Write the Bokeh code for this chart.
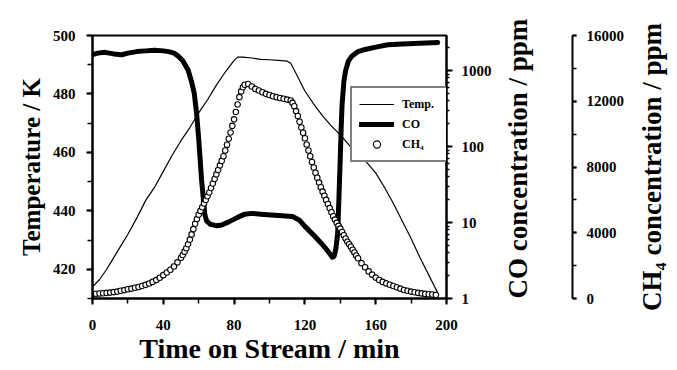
import math
from bokeh.plotting import figure
from bokeh.layouts import row
from bokeh.models import (Range1d, LinearAxis, LogAxis, LogScale, SingleIntervalTicker,
                          LogTicker, FixedTicker, Legend, LegendItem, PrintfTickFormatter)
from bokeh.embed import file_html
from bokeh.resources import INLINE

FONT = "Liberation Serif"

# ---- data ----
temp_time = [0, 4, 8, 12, 16, 20, 25, 30, 35, 40, 45, 50, 55, 60, 65, 70, 75, 80, 82, 85,
             90, 95, 100, 105, 110, 112, 115, 120, 125, 130, 135, 140, 145, 150, 155, 160,
             165, 170, 175, 180, 185, 190, 195]
temp_K = [414.0, 416.5, 420.0, 424.0, 428.0, 432.0, 437.5, 443.5, 448.0, 453.5, 459.0, 464.0,
          468.5, 473.5, 478.0, 483.0, 487.5, 491.5, 492.6, 492.6, 492.3, 491.8, 491.7, 491.5,
          491.2, 490.5, 487.0, 481.0, 476.5, 472.5, 469.0, 466.0, 462.5, 459.5, 456.5, 453.0,
          448.0, 442.5, 436.5, 430.5, 424.0, 418.0, 412.0]

co_time = [0, 3, 7, 12, 16.5, 20, 25, 30, 35, 40, 43, 46, 48.5, 51, 54, 56, 57.5, 58.8, 60,
           60.7, 61.6, 62.5, 63.5, 64.5, 66.5, 70, 73, 77, 82, 86, 90, 95, 101, 107, 113, 117,
           120, 125, 130, 133, 135.5, 136.5, 137.5, 138.5, 139.2, 139.9, 140.5, 141, 142, 143,
           144.5, 146.5, 150, 154, 160, 167, 175, 185, 195]
co_ppm = [1620, 1700, 1740, 1660, 1620, 1700, 1780, 1820, 1860, 1820, 1780, 1700, 1550, 1350,
          1020, 710, 500, 275, 126, 74, 37, 22, 12.6, 10.5, 9.5, 9.1, 9.3, 10.2, 11.7, 12.9,
          13.2, 12.9, 12.6, 12.3, 12.0, 10.7, 8.9, 6.8, 5.1, 4.2, 3.5, 3.6, 4.5, 7.1, 20, 62,
          178, 355, 710, 1000, 1320, 1550, 1780, 1900, 2040, 2190, 2240, 2290, 2340]

ch4_time = [0, 2, 4, 6, 8, 10, 12, 14, 16, 18, 20, 22, 24, 26, 28, 30, 32, 34, 36, 38, 40, 42,
            44, 46, 48, 50,
            51, 52, 53, 54, 55, 56, 57, 58, 59, 60, 61, 62, 63, 64, 65, 66, 67, 68, 69, 70,
            71, 72, 73, 74, 75, 76, 77, 78, 79, 80, 81, 82, 83, 84, 85, 86,
            88, 90, 92, 94, 96, 98, 100, 102, 104, 106, 108, 110, 112,
            113, 114, 115, 116, 117, 118, 119, 120, 121, 122, 123, 124, 125, 126, 127, 128,
            129, 130, 131, 132, 133, 134, 135, 136, 137, 138, 139, 140, 141, 142, 143, 144,
            145, 146, 147, 148, 149, 150,
            152, 154, 156, 158, 160, 162, 164, 166, 168, 170, 172, 174, 176, 178, 180, 182,
            184, 186, 188, 190, 192, 194]
ch4_ppm = [280, 290, 300, 320, 340, 360, 390, 420, 470, 510, 560, 600, 650, 700, 760, 830,
           910, 1010, 1120, 1260, 1420, 1580, 1750, 1950, 2200, 2480,
           2650, 2850, 3060, 3300, 3580, 3900, 4220, 4550, 4830, 5100, 5330, 5550, 5780, 6000,
           6220, 6450, 6720, 7000, 7270, 7550, 7820, 8100, 8370, 8650, 9000, 9350, 9720,
           10100, 10500, 10900, 11350, 11800, 12250, 12600, 12850, 13000,
           13050, 12900, 12750, 12650, 12550, 12450, 12380, 12300, 12250, 12200, 12150,
           12100, 12050,
           11900, 11700, 11400, 11100, 10750, 10400, 10080, 9750, 9370, 9000, 8650, 8300,
           7970, 7650, 7350, 7050, 6770, 6500, 6250, 6000, 5750, 5500, 5250, 5000, 4800,
           4600, 4420, 4250, 4050, 3850, 3650, 3450, 3300, 3150, 2970, 2800, 2620, 2450,
           2150, 1900, 1650, 1450, 1270, 1130, 1010, 920, 840, 760, 680, 600, 520, 470, 420,
           380, 340, 310, 280, 260, 240, 220]

x_ticks_interval = 40
t_ticks_interval = 20
ch4_ticks_interval = 4000

p = figure(width=627, height=370, output_backend="svg", toolbar_location=None,
           x_range=Range1d(0, 200), y_range=Range1d(410, 500),
           min_border_left=92, min_border_right=180, min_border_top=35, min_border_bottom=72)
p.extra_y_ranges = {"co": Range1d(1, 2900), "ch4": Range1d(0, 16000)}
p.extra_y_scales = {"co": LogScale()}
p.grid.grid_line_color = None
p.outline_line_color = "black"
p.outline_line_width = 2
p.background_fill_color = "white"
p.border_fill_color = "white"


def style(ax):
    ax.axis_line_width = 2
    ax.axis_line_color = "black"
    ax.major_tick_line_width = 2
    ax.minor_tick_line_width = 1.5
    ax.major_tick_in = 0
    ax.minor_tick_in = 0
    ax.major_tick_out = 6
    ax.minor_tick_out = 5
    ax.major_label_text_font = FONT
    ax.major_label_text_font_style = "bold"
    ax.major_label_text_font_size = "15px"
    ax.major_label_text_color = "black"
    ax.axis_label_text_font = FONT
    ax.axis_label_text_font_style = "bold"
    ax.axis_label_text_font_size = "25px"
    ax.axis_label_text_color = "black"


def upward_from_bottom(ax):
    try:
        ax.axis_label_orientation = math.pi / 2
    except Exception:
        pass
    try:
        ax.axis_label_align = "start"
    except Exception:
        pass


xa = p.xaxis[0]
style(xa)
xa.ticker = SingleIntervalTicker(interval=x_ticks_interval, num_minor_ticks=2)
xa.axis_label = "Time on Stream / min"
xa.axis_label_text_font_size = "28px"
xa.major_label_standoff = 15
xa.axis_label_standoff = 0

ya = p.yaxis[0]
style(ya)
ya.ticker = SingleIntervalTicker(interval=t_ticks_interval, num_minor_ticks=2)
ya.axis_label = "Temperature / K"
ya.major_label_standoff = 11
ya.axis_label_standoff = 5

co_ax = LogAxis(y_range_name="co", ticker=LogTicker(num_minor_ticks=10),
                formatter=PrintfTickFormatter(format="%d"))
style(co_ax)
co_ax.minor_tick_out = 3
co_ax.major_label_standoff = 9
co_ax.axis_label = "CO concentration / ppm"
co_ax.axis_label_text_font_size = "27px"
co_ax.axis_label_standoff = 23
upward_from_bottom(co_ax)

# blank spacer axis that pushes the CH4 axis outward
spacer = LinearAxis(y_range_name="ch4", ticker=FixedTicker(ticks=[]))
spacer.axis_line_color = None
spacer.major_tick_out = 0
spacer.minor_tick_out = 0
spacer.major_label_standoff = 0
spacer.axis_label = " "
spacer.axis_label_text_font_size = "12px"
spacer.axis_label_standoff = 5

ch4_ax = LinearAxis(y_range_name="ch4",
                    ticker=SingleIntervalTicker(interval=ch4_ticks_interval, num_minor_ticks=2))
style(ch4_ax)
ch4_ax.major_tick_out = 4
ch4_ax.minor_tick_out = 4
ch4_ax.major_label_standoff = 10

p.add_layout(co_ax, "right")
p.add_layout(spacer, "right")
p.add_layout(ch4_ax, "right")

r_t = p.line(temp_time, temp_K, line_color="black", line_width=1.2)
r_co = p.line(co_time, co_ppm, line_color="black", line_width=5, y_range_name="co",
              line_join="round", line_cap="round")
r_ch4 = p.scatter(ch4_time, ch4_ppm, marker="circle", size=5.5, fill_color="white",
                  line_color="black", line_width=1.1, y_range_name="ch4")

legend = Legend(items=[LegendItem(label="Temp.", renderers=[r_t]),
                       LegendItem(label="CO", renderers=[r_co]),
                       LegendItem(label="CH\u2084", renderers=[r_ch4])],
                location=(258, 136))
legend.border_line_color = "black"
legend.border_line_width = 2
legend.background_fill_color = "white"
legend.background_fill_alpha = 1
legend.padding = 7
legend.spacing = 2
legend.margin = 0
legend.glyph_width = 35
legend.glyph_height = 18
legend.label_height = 18
legend.label_width = 40
legend.label_standoff = 8
legend.label_text_font = FONT
legend.label_text_font_style = "bold"
legend.label_text_font_size = "12px"
legend.label_text_color = "black"
p.add_layout(legend)

# narrow companion figure that carries the CH4 axis title (reads bottom to top)
p2 = figure(width=50, height=370, output_backend="svg", toolbar_location=None,
            x_range=Range1d(0, 1), y_range=Range1d(0, 16000),
            min_border_left=48, min_border_right=0, min_border_top=35, min_border_bottom=72)
p2.grid.grid_line_color = None
p2.outline_line_color = None
p2.background_fill_color = "white"
p2.border_fill_color = "white"
p2.xaxis.visible = False
ta = p2.yaxis[0]
ta.ticker = FixedTicker(ticks=[])
ta.axis_line_color = None
ta.major_tick_out = 0
ta.minor_tick_out = 0
ta.major_label_standoff = 0
ta.axis_label = "CH\u2084 concentration / ppm"
ta.axis_label_text_font = FONT
ta.axis_label_text_font_style = "bold"
ta.axis_label_text_font_size = "27px"
ta.axis_label_text_color = "black"
ta.axis_label_standoff = 9

layout = row(p, p2)
open("out.html", "w").write(file_html(layout, INLINE))
